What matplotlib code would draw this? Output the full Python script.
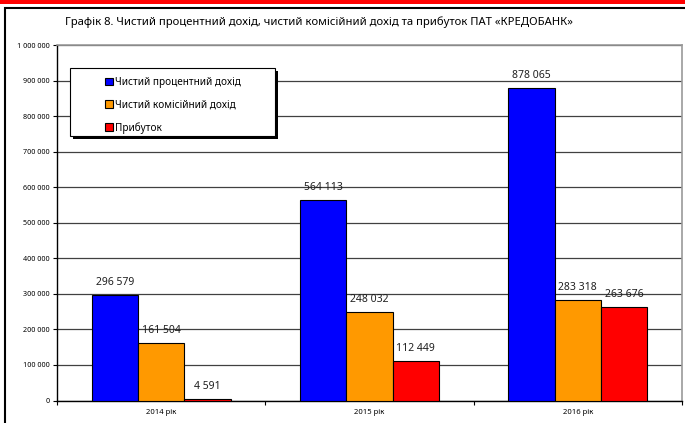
import matplotlib
matplotlib.use("Agg")
import matplotlib.pyplot as plt
from matplotlib.patches import Rectangle
from matplotlib.ticker import FuncFormatter
import numpy as np

years = ["2014 рік", "2015 рік", "2016 рік"]
series_names = ["Чистий процентний дохід", "Чистий комісійний дохід", "Прибуток"]
interest_income = [296579, 564113, 878065]
commission_income = [161504, 248032, 283318]
profit = [4591, 112449, 263676]
colors = ["#0000FF", "#FF9900", "#FF0000"]

plt.rcParams['font.family'] = ['Noto Sans', 'DejaVu Sans']

W, H = 685, 423
fig = plt.figure(figsize=(6.85, 4.23), dpi=100)

def px_rect(x0, y0, x1, y1, **kw):
    # rectangle given in pixel coords from the top-left corner
    return Rectangle((x0 / W, 1 - y1 / H), (x1 - x0) / W, (y1 - y0) / H,
                     transform=fig.transFigure, **kw)

# red band and frame
fig.patches.append(px_rect(0, 0, W, 4, facecolor="#FF0000", edgecolor="none"))
fig.patches.append(px_rect(5, 8, W + 5, H + 5, facecolor="none", edgecolor="black", linewidth=1.5))

ax = fig.add_axes([57 / W, 1 - 400.5 / H, 625 / W, 355.5 / H])

x = np.arange(len(years))
width = 1 / 4.5
all_series = [interest_income, commission_income, profit]
handles = []
for i, vals in enumerate(all_series):
    pos = x + (i - 1) * width
    bars = ax.bar(pos, vals, width, color=colors[i], edgecolor="black", linewidth=0.8,
                  label=series_names[i], zorder=3)
    handles.append(bars)
    for b, v in zip(bars, vals):
        ax.annotate(f"{v:,}".replace(",", " "), (b.get_x() + b.get_width() / 2, v),
                    xytext=(0, 5), textcoords="offset points", ha="center", va="bottom",
                    fontsize=7.5, color="#202020", zorder=4)

ax.set_xlim(-0.5, 2.5)
ax.set_ylim(0, 1000000)
ax.set_yticks(np.arange(0, 1000001, 100000))
ax.yaxis.set_major_formatter(FuncFormatter(lambda v, p: f"{int(v):,}".replace(",", " ")))
ax.yaxis.grid(True, color="#404040", linewidth=0.9, zorder=0)
ax.set_axisbelow(True)

ax.set_xticks(x)
ax.set_xticklabels(years, fontsize=5.5)
ax.set_xticks([-0.5, 0.5, 1.5, 2.5], minor=True)
ax.tick_params(axis="x", which="major", length=0, pad=6)
ax.tick_params(axis="x", which="minor", length=3, width=0.8)
ax.tick_params(axis="y", labelsize=5.2, length=3, width=0.8, pad=2)

for s in ["top", "right"]:
    ax.spines[s].set_color("#999999")
    ax.spines[s].set_linewidth(1.2)
ax.spines["left"].set_linewidth(1)
ax.spines["bottom"].set_linewidth(1)

fig.text(65 / W, 1 - 22 / H, "Графік 8. Чистий процентний дохід, чистий комісійний дохід та прибуток ПАТ «КРЕДОБАНК»",
         fontsize=8.1, va="center", ha="left")

# legend box with shadow, drawn by hand
fig.patches.append(px_rect(73, 71, 278, 139, facecolor="black", edgecolor="none", zorder=8))
fig.patches.append(px_rect(70, 68, 275, 136, facecolor="white", edgecolor="black", linewidth=0.8, zorder=9))
leg = fig.legend(handles, series_names, loc="upper left", bbox_to_anchor=(101 / W, 1 - 73 / H),
                 fontsize=7.2, frameon=False, handlelength=0.8, handleheight=0.8, handletextpad=0.2,
                 labelspacing=1.15, borderpad=0.4, borderaxespad=0)
leg.set_zorder(10)

fig.savefig("out.png", dpi=100)
